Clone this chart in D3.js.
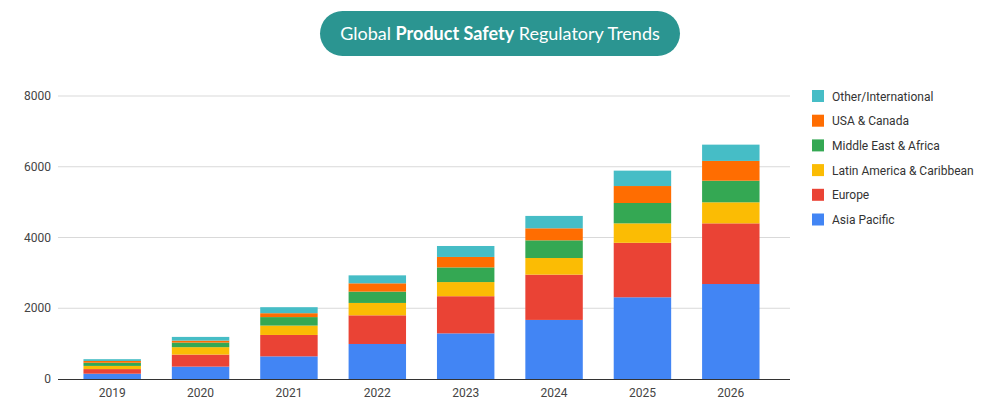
<!DOCTYPE html>
<html><head><meta charset="utf-8">
<script src="https://cdn.jsdelivr.net/npm/d3@7"></script>
<style>body{margin:0;background:#fff;font-family:Roboto,Arial,sans-serif}</style>
</head><body><svg id="c" width="1000" height="411"></svg>
<script>
var years = ['2019','2020','2021','2022','2023','2024','2025','2026'];
var asiaPacific = [150,350,640,990,1290,1670,2310,2685];
var europe = [130,340,605,810,1050,1280,1540,1715];
var latinAmerica = [90,210,265,350,400,470,550,595];
var middleEast = [90,130,240,320,415,500,575,610];
var usaCanada = [50,55,110,235,295,340,480,560];
var otherIntl = [50,105,170,225,310,350,435,460];
var seriesNames = ['Asia Pacific','Europe','Latin America & Caribbean','Middle East & Africa','USA & Canada','Other/International'];
var colors = ['#4285f4','#ea4335','#fbbc04','#34a853','#ff6d01','#46bdc6'];
var yTicks = [0,2000,4000,6000,8000];

var all = [asiaPacific, europe, latinAmerica, middleEast, usaCanada, otherIntl];
var rows = years.map(function(y, i) {
    var r = {year: y};
    seriesNames.forEach(function(n, k) { r[n] = all[k][i]; });
    return r;
});
var stacked = d3.stack().keys(seriesNames)(rows);

var svg = d3.select('#c');
var x = d3.scaleBand().domain(years).range([68, 775]).paddingInner(0.35).paddingOuter(0.175);
var y = d3.scaleLinear().domain([0, 8000]).range([379, 96]);

// title pill
svg.append('rect').attr('x', 320).attr('y', 11).attr('width', 360).attr('height', 45).attr('rx', 22.5).attr('fill', '#2b9591');
var t = svg.append('text').attr('x', 500).attr('y', 40).attr('text-anchor', 'middle')
    .attr('fill', '#fff').attr('font-family', 'Lato, sans-serif').attr('font-size', 18);
t.append('tspan').text('Global ');
t.append('tspan').attr('font-weight', 'bold').text('Product Safety');
t.append('tspan').text(' Regulatory Trends');

// grid
svg.append('g').selectAll('line').data(yTicks.slice(1)).enter().append('line')
    .attr('x1', 58).attr('x2', 790).attr('y1', function(d) { return y(d); }).attr('y2', function(d) { return y(d); })
    .attr('stroke', '#d9d9d9');
svg.append('g').selectAll('text').data(yTicks).enter().append('text')
    .attr('x', 51).attr('y', function(d) { return y(d) + 4; }).attr('text-anchor', 'end')
    .attr('font-size', 12).attr('fill', '#444').text(function(d) { return d; });

// bars
svg.append('g').selectAll('g').data(stacked).enter().append('g')
    .attr('fill', function(d, i) { return colors[i]; })
    .selectAll('rect').data(function(d) { return d; }).enter().append('rect')
    .attr('x', function(d) { return x(d.data.year); })
    .attr('width', x.bandwidth())
    .attr('y', function(d) { return y(d[1]); })
    .attr('height', function(d) { return y(d[0]) - y(d[1]); });

svg.append('line').attr('x1', 58).attr('x2', 790).attr('y1', 379.5).attr('y2', 379.5).attr('stroke', '#333');
svg.append('g').selectAll('text').data(years).enter().append('text')
    .attr('x', function(d) { return x(d) + x.bandwidth() / 2; }).attr('y', 397)
    .attr('text-anchor', 'middle').attr('font-size', 12).attr('fill', '#444').text(function(d) { return d; });

// legend (top entry = last series)
var leg = svg.append('g').selectAll('g').data(seriesNames.slice().reverse()).enter().append('g')
    .attr('transform', function(d, i) { return 'translate(812,' + (96 + i * 24.7) + ')'; });
leg.append('rect').attr('x', 0).attr('y', -6).attr('width', 12).attr('height', 12)
    .attr('fill', function(d) { return colors[seriesNames.indexOf(d)]; });
leg.append('text').attr('x', 20).attr('y', 4.5).attr('font-size', 12).attr('fill', '#333').text(function(d) { return d; });
</script></body></html>
